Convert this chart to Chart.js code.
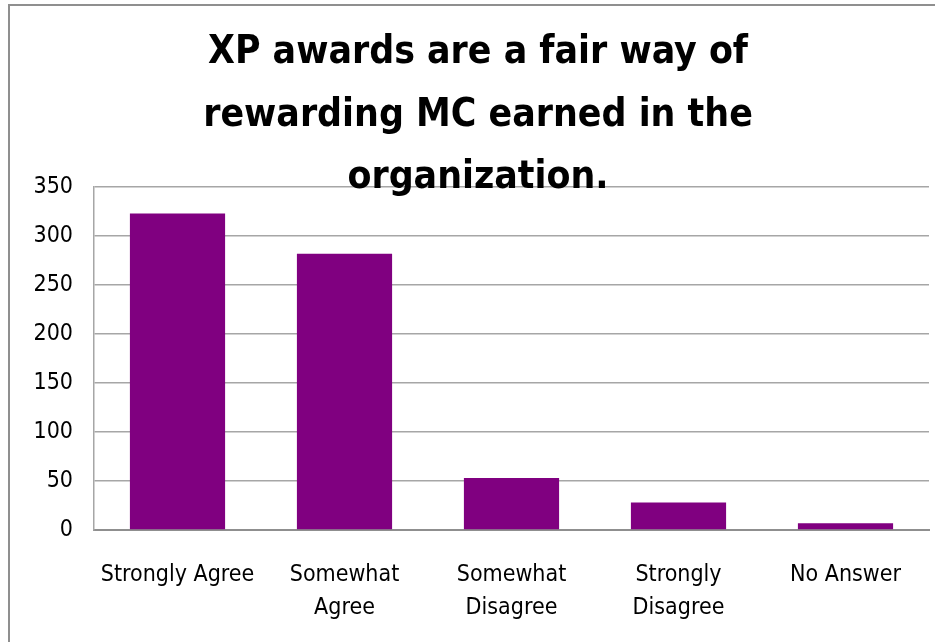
<!DOCTYPE html>
<html>
<head>
<meta charset="utf-8">
<script src="https://cdn.jsdelivr.net/npm/chart.js@4"></script>
<style>
  html, body { margin: 0; padding: 0; background: #fff; overflow: hidden; }
  #frame { position: absolute; left: 8px; top: 4px; width: 1000px; height: 1000px; border-left: 2px solid #8f8f8f; border-top: 2px solid #8f8f8f; }
  #wrap { position: absolute; left: 0; top: 0; width: 935px; height: 642px; }
</style>
</head>
<body>
<div id="frame"></div>
<div id="wrap"><canvas id="c" width="935" height="642"></canvas></div>
<script>
const titleLines = ["XP awards are a fair way of", "rewarding MC earned in the", "organization."];
const categories = [["Strongly Agree"], ["Somewhat", "Agree"], ["Somewhat", "Disagree"], ["Strongly", "Disagree"], ["No Answer"]];
const responses = [323, 282, 53, 28, 7];
const yTicks = [0, 50, 100, 150, 200, 250, 300, 350];

const TICK_FONT = '"Liberation Sans Narrow", "DejaVu Sans Condensed", "Open Sans", sans-serif';

const titlePlugin = {
  id: 'overlapTitle',
  afterDraw(chart) {
    const ctx = chart.ctx;
    ctx.save();
    const fam = '"Liberation Sans Narrow", "DejaVu Sans Condensed", "Open Sans", sans-serif';
    ctx.font = 'bold 46px ' + fam;
    const w = ctx.measureText(titleLines[0]).width;
    const size = 46 * 540 / w;
    ctx.font = 'bold ' + size.toFixed(1) + 'px ' + fam;
    ctx.fillStyle = '#000';
    ctx.textAlign = 'center';
    ctx.textBaseline = 'middle';
    const ys = [53, 116, 178];
    titleLines.forEach((t, i) => ctx.fillText(t, 478, ys[i]));
    ctx.restore();
  }
};

new Chart(document.getElementById('c'), {
  type: 'bar',
  data: {
    labels: categories,
    datasets: [{
      data: responses,
      backgroundColor: '#800080',
      borderWidth: 0,
      categoryPercentage: 1,
      barPercentage: 0.57
    }]
  },
  options: {
    responsive: false,
    animation: false,
    events: [],
    layout: { padding: { left: 0, right: 6, top: 187, bottom: 0 } },
    plugins: { legend: { display: false }, title: { display: false }, tooltip: { enabled: false } },
    scales: {
      x: {
        grid: { display: false, drawTicks: false },
        border: { display: true, color: '#8f8f8f', width: 2 },
        ticks: { color: '#000', font: { family: TICK_FONT, size: 23, lineHeight: 1.45 }, padding: 28, maxRotation: 0, autoSkip: false },
        afterFit: s => { s.height = 642 - 530; }
      },
      y: {
        min: 0, max: 350,
        afterBuildTicks: s => { s.ticks = yTicks.map(v => ({ value: v })); },
        grid: { color: '#a6a6a6', lineWidth: 1.5, drawTicks: false },
        border: { display: true, color: '#a6a6a6', width: 1.5 },
        ticks: { color: '#000', font: { family: TICK_FONT, size: 23 }, padding: 21 },
        afterFit: s => { s.width = 94; }
      }
    }
  },
  plugins: [titlePlugin]
});
</script>
</body>
</html>
